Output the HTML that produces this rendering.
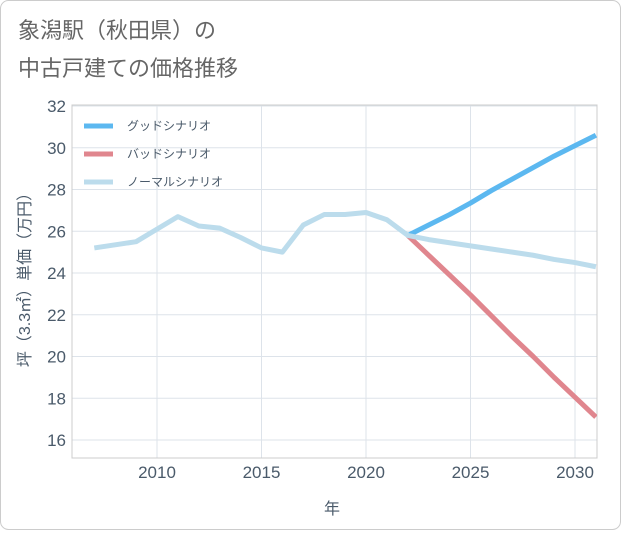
<!DOCTYPE html>
<html><head><meta charset="utf-8"><style>
body{margin:0;background:#fff;}
svg text{font-family:"Liberation Sans","Noto Sans CJK JP",sans-serif;}
</style></head><body>
<svg width="621" height="530" xmlns="http://www.w3.org/2000/svg">
<rect x="0.5" y="0.5" width="620" height="529" rx="8" fill="#fff" stroke="#ccc"/>
<text x="18" y="38" font-size="22" fill="#666">象潟駅（秋田県）の</text>
<text x="18" y="76" font-size="22" fill="#666">中古戸建ての価格推移</text>
<g id="grid"></g>
<rect x="72" y="105" width="525" height="353" fill="none" stroke="#ccc"/>
<g id="series"></g>
<g id="legend"></g>
<text transform="translate(30,276) rotate(-90)" text-anchor="middle" font-size="16" fill="#4a5a6a">坪（3.3㎡）単価（万円）</text>
<text x="332" y="514" text-anchor="middle" font-size="16" fill="#4a5a6a">年</text>
</svg>
<script>
const yTicks=[16,18,20,22,24,26,28,30,32];
const xTicks=[2010,2015,2020,2025,2030];
const normalYears=[2007,2008,2009,2010,2011,2012,2013,2014,2015,2016,2017,2018,2019,2020,2021,2022,2023,2024,2025,2026,2027,2028,2029,2030,2031];
const normalVals=[25.2,25.35,25.5,26.1,26.7,26.25,26.15,25.7,25.2,25.0,26.3,26.8,26.8,26.9,26.55,25.8,25.6,25.45,25.3,25.15,25.0,24.85,24.65,24.5,24.3];
const futureYears=[2022,2023,2024,2025,2026,2027,2028,2029,2030,2031];
const goodVals=[25.8,26.3,26.8,27.35,27.95,28.5,29.05,29.6,30.1,30.6];
const badVals=[25.8,24.85,23.9,22.95,21.95,20.95,20.0,19.0,18.05,17.1];
const legendLabels=["グッドシナリオ","バッドシナリオ","ノーマルシナリオ"];
const NS="http://www.w3.org/2000/svg";
const X0=72,X1=597,Y0=105,Y1=458;
const xs=y=>157+(y-2010)*20.9;
const ys=v=>440-(v-16)*20.875;
function mk(t,a,p){const e=document.createElementNS(NS,t);for(const k in a)e.setAttribute(k,a[k]);p.appendChild(e);return e;}
const grid=document.getElementById('grid');
yTicks.forEach(v=>{
 const l=mk('line',{x1:X0,x2:X1,y1:ys(v),y2:ys(v),stroke:'#dde3ea'},grid);
 
 
 const t=mk('text',{x:66,y:ys(v)+6,'text-anchor':'end','font-size':17,fill:'#4a5a6a'},grid);
 t.textContent=v;
 
 
});
xTicks.forEach(v=>{
 const l=mk('line',{x1:xs(v),x2:xs(v),y1:Y0,y2:Y1,stroke:'#dde3ea'},grid);
 
 
 const t=mk('text',{x:xs(v),y:478,'text-anchor':'middle','font-size':17,fill:'#4a5a6a'},grid);
 t.textContent=v;
 
 
});
const ser=document.getElementById('series');
const clip=mk('clipPath',{id:'pc'},ser);mk('rect',{x:X0,y:Y0,width:X1-X0,height:Y1-Y0},clip);
function line(years,vals,color,name){
 const p=mk('polyline',{points:years.map((y,i)=>xs(y)+','+ys(vals[i])).join(' '),fill:'none',stroke:color,'stroke-width':5,'stroke-linejoin':'round','clip-path':'url(#pc)'},ser);
 
 
}
line(futureYears,badVals,'#e0868e','bad-scenario-line');
line(futureYears,goodVals,'#5cb8f0','good-scenario-line');
line(normalYears,normalVals,'#bcdcec','normal-scenario-line');
const lg=document.getElementById('legend');
const cols=['#5cb8f0','#e0868e','#bcdcec'];
legendLabels.forEach((s,i)=>{
 const y=126+i*28;
 const l=mk('line',{x1:84,x2:113,y1:y,y2:y,stroke:cols[i],'stroke-width':5},lg);
 
 
 const t=mk('text',{x:127,y:y+4,'font-size':12,fill:'#4a5a6a'},lg);
 t.textContent=s;
 
 
});
</script>
</body></html>
